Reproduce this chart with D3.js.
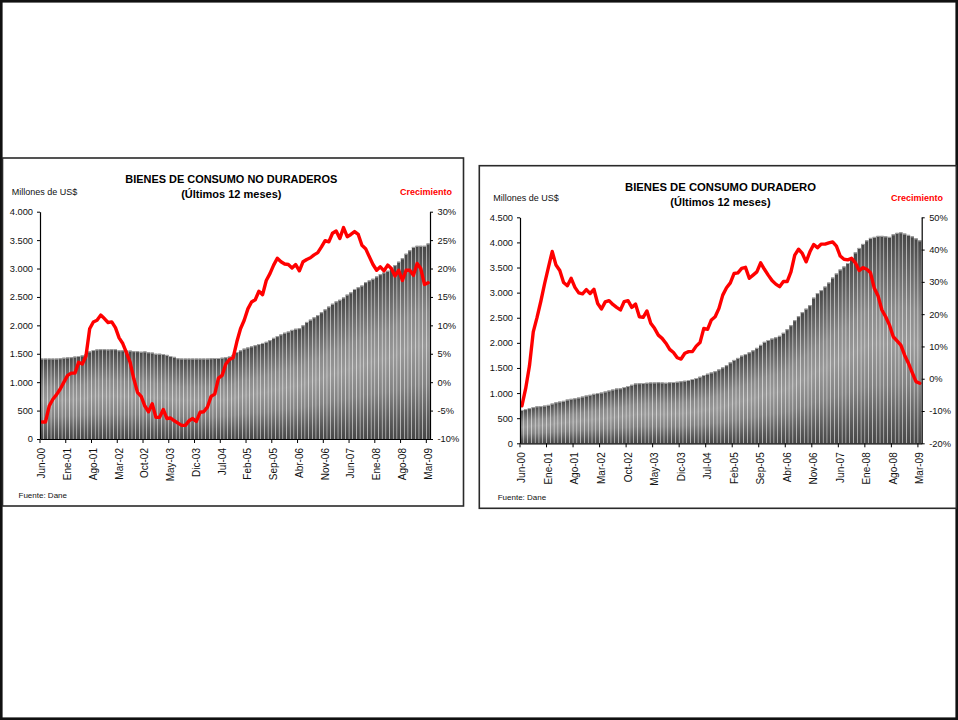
<!DOCTYPE html>
<html>
<head>
<meta charset="utf-8">
<script src="https://cdn.jsdelivr.net/npm/d3@7"></script>
<style>
  html, body { margin: 0; padding: 0; background: #fff; }
  svg { display: block; font-family: "Liberation Sans", Arial, sans-serif; }
</style>
</head>
<body>
<div id="chart"></div>
<script>
// --- datos ---
var mesesAbr = ["Ene", "Feb", "Mar", "Abr", "May", "Jun", "Jul", "Ago", "Sep", "Oct", "Nov", "Dic"];
var etiquetasX = ["Jun-00", "Ene-01", "Ago-01", "Mar-02", "Oct-02", "May-03", "Dic-03", "Jul-04",
  "Feb-05", "Sep-05", "Abr-06", "Nov-06", "Jun-07", "Ene-08", "Ago-08", "Mar-09"];

// Bienes de consumo no duraderos, millones de US$ (ultimos 12 meses)
var noDurValor = [1415, 1415, 1415, 1415, 1415, 1420, 1430, 1435, 1440, 1450,
  1460, 1470, 1490, 1540, 1565, 1575, 1580, 1580, 1575, 1580,
  1580, 1560, 1560, 1555, 1555, 1545, 1545, 1535, 1540, 1525,
  1520, 1500, 1500, 1495, 1480, 1460, 1445, 1420, 1415, 1415,
  1415, 1415, 1415, 1415, 1415, 1415, 1420, 1425, 1425, 1430,
  1440, 1450, 1480, 1530, 1560, 1590, 1610, 1630, 1650, 1670,
  1690, 1710, 1740, 1780, 1810, 1840, 1870, 1890, 1920, 1940,
  1950, 2000, 2060, 2100, 2140, 2180, 2230, 2280, 2330, 2380,
  2420, 2450, 2490, 2540, 2580, 2640, 2670, 2700, 2760, 2790,
  2820, 2860, 2900, 2930, 2960, 3010, 3060, 3120, 3180, 3260,
  3320, 3380, 3400, 3400, 3400, 3440];
// Crecimiento anual (%)
var noDurCrec = [-7.0, -7.0, -4.2, -3.0, -2.2, -1.2, 0.0, 1.2, 1.6, 1.6,
  3.5, 3.2, 4.6, 9.4, 10.6, 10.9, 11.8, 11.2, 10.5, 10.6,
  9.6, 7.8, 6.8, 5.2, 3.5, 0.6, -1.8, -2.5, -4.2, -5.2,
  -3.8, -6.2, -6.2, -4.8, -6.4, -6.3, -6.8, -7.2, -7.6, -7.6,
  -6.8, -6.4, -6.9, -5.3, -5.2, -4.4, -2.5, -2.1, 0.7, 1.2,
  3.2, 4.0, 4.3, 7.1, 9.4, 10.9, 12.9, 14.1, 14.5, 16.0,
  15.4, 17.9, 19.1, 20.6, 21.8, 21.2, 20.8, 20.7, 20.1, 20.7,
  19.6, 21.2, 21.6, 21.9, 22.4, 22.8, 23.8, 24.9, 24.7, 26.2,
  26.6, 25.3, 27.2, 25.6, 26.0, 26.5, 26.0, 24.1, 23.5, 22.1,
  20.7, 19.7, 20.3, 19.6, 20.6, 20.0, 18.7, 19.7, 17.9, 19.7,
  19.7, 18.8, 20.9, 20.0, 17.2, 17.5];

// Bienes de consumo duradero, millones de US$ (ultimos 12 meses)
var durValor = [664, 680, 700, 720, 735, 740, 750, 765, 790, 815,
  830, 845, 870, 885, 895, 910, 930, 950, 965, 985,
  1000, 1010, 1030, 1050, 1070, 1090, 1095, 1120, 1140, 1165,
  1190, 1195, 1200, 1205, 1210, 1210, 1215, 1210, 1205, 1215,
  1220, 1225, 1235, 1245, 1260, 1280, 1300, 1325, 1360, 1385,
  1410, 1435, 1470, 1510, 1555, 1610, 1660, 1700, 1745, 1775,
  1810, 1850, 1900, 1960, 2020, 2057, 2085, 2110, 2140, 2200,
  2270, 2350, 2450, 2530, 2610, 2680, 2750, 2900, 2990, 3050,
  3120, 3200, 3300, 3380, 3460, 3520, 3590, 3690, 3800, 3890,
  3970, 4040, 4090, 4110, 4130, 4130, 4120, 4110, 4160, 4190,
  4200, 4175, 4150, 4120, 4080, 4040];
var durCrec = [-8.4, -3.0, 4.0, 14.5, 19.0, 24.0, 29.5, 34.5, 39.4, 35.2,
  33.5, 29.8, 28.8, 31.1, 28.3, 26.6, 26.3, 27.6, 26.4, 27.7,
  23.3, 21.6, 23.8, 24.2, 23.0, 22.1, 21.3, 23.9, 24.2, 22.1,
  23.1, 19.2, 19.0, 21.0, 17.2, 15.6, 13.5, 12.5, 11.0, 9.1,
  8.1, 6.5, 6.1, 7.9, 8.4, 8.4, 10.1, 11.2, 15.6, 15.3,
  18.2, 19.2, 21.8, 25.9, 28.2, 29.7, 32.6, 32.8, 34.2, 34.5,
  31.1, 32.1, 33.1, 35.9, 33.9, 32.1, 30.4, 29.3, 28.5, 30.1,
  30.1, 33.1, 38.3, 40.1, 38.8, 36.2, 39.3, 41.6, 40.6, 41.7,
  41.7, 42.1, 42.4, 41.1, 38.0, 37.0, 36.8, 37.3, 35.9, 33.5,
  34.4, 33.9, 32.8, 28.0, 25.6, 21.3, 19.2, 16.6, 13.0, 11.7,
  10.4, 7.3, 4.8, 1.9, -0.9, -1.4];

var ticksNoDurUSD = [0, 500, 1000, 1500, 2000, 2500, 3000, 3500, 4000];
var ticksNoDurPct = [-10, -5, 0, 5, 10, 15, 20, 25, 30];
var ticksDurUSD = [0, 500, 1000, 1500, 2000, 2500, 3000, 3500, 4000, 4500];
var ticksDurPct = [-20, -10, 0, 10, 20, 30, 40, 50];

// categorias mensuales Jun-00 .. Mar-09
var categorias = noDurValor.map(function(d, i) {
  var m = 5 + i;
  return mesesAbr[m % 12] + '-' + String(Math.floor(m / 12)).padStart(2, '0');
});

var W = 958, H = 720;
var svg = d3.select('#chart').append('svg').attr('width', W).attr('height', H);

var loc = d3.formatLocale({ decimal: ',', thousands: '.', grouping: [3], currency: ['$', ''] });
var fmtUSD = loc.format(',');
var fmtPct = function(d) { return d + '%'; };

var defs = svg.append('defs');
var grad = defs.append('linearGradient').attr('id', 'gradBar')
  .attr('x1', 0).attr('y1', 0).attr('x2', 0).attr('y2', 1);
grad.append('stop').attr('offset', '0%').attr('stop-color', '#454545');
grad.append('stop').attr('offset', '12%').attr('stop-color', '#5e5e5e');
grad.append('stop').attr('offset', '35%').attr('stop-color', '#8a8a8a');
grad.append('stop').attr('offset', '52%').attr('stop-color', '#999999');
grad.append('stop').attr('offset', '72%').attr('stop-color', '#838383');
grad.append('stop').attr('offset', '90%').attr('stop-color', '#5a5a5a');
grad.append('stop').attr('offset', '100%').attr('stop-color', '#474747');

// outer frame
svg.append('rect').attr('x', 1.3).attr('y', 1.3).attr('width', W - 2.6).attr('height', H - 2.6)
  .attr('fill', '#fff').attr('stroke', '#111').attr('stroke-width', 2.6);

function dibujar(c) {
  var g = svg.append('g');
  g.append('rect').attr('x', c.box[0]).attr('y', c.box[1]).attr('width', c.box[2]).attr('height', c.box[3])
    .attr('fill', '#fff').attr('stroke', '#2a2a2a').attr('stroke-width', 1.6);

  var x = d3.scaleBand().domain(categorias).range([c.x0, c.x1]).padding(0);
  var bw = x.bandwidth();
  var yL = d3.scaleLinear().domain(c.domUSD).range([c.yB, c.yT]);
  var yR = d3.scaleLinear().domain(c.domPct).range([c.yB, c.yT]);

  // barras
  g.append('g').selectAll('rect').data(c.valores).join('rect')
    .attr('x', function(d, i) { return x(categorias[i]) + 0.25; })
    .attr('width', bw - 0.5)
    .attr('y', function(d) { return yL(d); })
    .attr('height', function(d) { return yL(0) - yL(d); })
    .attr('fill', 'url(#gradBar)');
  g.append('g').selectAll('rect').data(c.valores).join('rect')
    .attr('x', function(d, i) { return x(categorias[i]) + 0.25; })
    .attr('width', bw - 0.5)
    .attr('y', function(d) { return yL(d); })
    .attr('height', 1)
    .attr('fill', '#a8a8a8');

  // linea de crecimiento
  var line = d3.line()
    .x(function(d, i) { return x(categorias[i]) + bw / 2; })
    .y(function(d) { return yR(d); });
  g.append('path').datum(c.crec).attr('d', line)
    .attr('fill', 'none').attr('stroke', '#ff0000').attr('stroke-width', 3.4)
    .attr('stroke-linejoin', 'round').attr('stroke-linecap', 'round');

  // ejes
  var axL = g.append('g').attr('transform', 'translate(' + c.x0 + ',0)')
    .call(d3.axisLeft(yL).tickValues(c.ticksUSD).tickFormat(fmtUSD).tickSize(3).tickSizeOuter(0).tickPadding(4));
  var axR = g.append('g').attr('transform', 'translate(' + c.x1 + ',0)')
    .call(d3.axisRight(yR).tickValues(c.ticksPct).tickFormat(fmtPct).tickSize(3).tickSizeOuter(0).tickPadding(4.5));
  var axB = g.append('g').attr('transform', 'translate(0,' + c.yB + ')')
    .call(d3.axisBottom(x).tickValues(etiquetasX).tickSize(4).tickSizeOuter(0));
  axB.selectAll('.tick line').attr('x1', -bw / 2).attr('x2', -bw / 2);
  axB.selectAll('.tick text')
    .attr('transform', 'rotate(-90)').attr('x', -9).attr('y', 0).attr('dy', '0.35em')
    .style('text-anchor', 'end').attr('font-size', '10px');

  [axL, axR, axB].forEach(function(a) {
    a.attr('font-family', '"Liberation Sans", Arial, sans-serif').attr('font-size', '9.3px');
    a.selectAll('.domain').attr('stroke', '#000').attr('stroke-width', 1.2);
    a.selectAll('.tick line').attr('stroke', '#000');
    a.selectAll('.tick text').attr('fill', '#111');
  });

  // textos
  g.append('text').attr('x', c.tituloX).attr('y', c.tituloY).attr('text-anchor', 'middle')
    .attr('font-size', '11px').attr('font-weight', 'bold').attr('fill', '#000')
    .attr('textLength', c.tituloW).attr('lengthAdjust', 'spacingAndGlyphs').text(c.titulo);
  g.append('text').attr('x', c.tituloX).attr('y', c.tituloY + 15).attr('text-anchor', 'middle')
    .attr('font-size', '11px').attr('font-weight', 'bold').attr('fill', '#000')
    .text('(Últimos 12 meses)');
  g.append('text').attr('x', c.millX).attr('y', c.millY)
    .attr('font-size', '9px').attr('fill', '#111').text('Millones de US$');
  g.append('text').attr('x', c.crecX).attr('y', c.millY)
    .attr('font-size', '9px').attr('font-weight', 'bold').attr('fill', '#ff0000').text('Crecimiento');
  g.append('text').attr('x', c.fuenteX).attr('y', c.fuenteY)
    .attr('font-size', '8px').attr('fill', '#111').text('Fuente: Dane');
}

dibujar({
  box: [2.5, 158, 461, 348],
  x0: 40, x1: 430, yT: 211.7, yB: 439,
  domUSD: [0, 4000], domPct: [-10, 30],
  ticksUSD: ticksNoDurUSD, ticksPct: ticksNoDurPct,
  valores: noDurValor, crec: noDurCrec,
  titulo: 'BIENES DE CONSUMO NO DURADEROS', tituloX: 231.3, tituloY: 183.3, tituloW: 212,
  millX: 11.7, millY: 195, crecX: 400,
  fuenteX: 18.5, fuenteY: 497.5
});

dibujar({
  box: [479.3, 165.7, 477, 342.6],
  x0: 520, x1: 921.7, yT: 217.3, yB: 443.3,
  domUSD: [0, 4500], domPct: [-20, 50],
  ticksUSD: ticksDurUSD, ticksPct: ticksDurPct,
  valores: durValor, crec: durCrec,
  titulo: 'BIENES DE CONSUMO DURADERO', tituloX: 720.5, tituloY: 191, tituloW: 191,
  millX: 493.3, millY: 200.7, crecX: 891,
  fuenteX: 497.7, fuenteY: 500
});
</script>
</body>
</html>
